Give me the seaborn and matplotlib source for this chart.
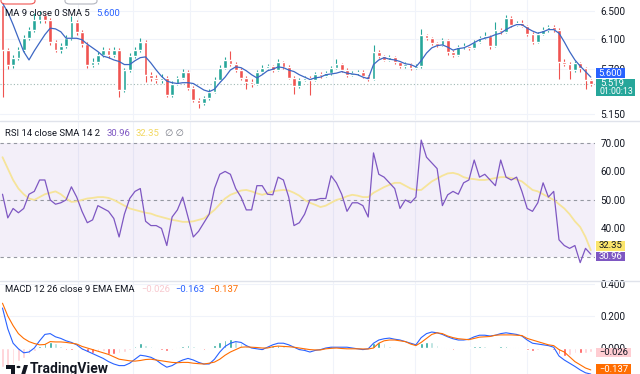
import matplotlib
matplotlib.use("Agg")
import matplotlib.pyplot as plt
import matplotlib.ticker as mticker
from matplotlib.patches import Rectangle, FancyBboxPatch, Polygon, Circle
from matplotlib.lines import Line2D
import numpy as np
import pandas as pd
import seaborn as sns

# %% values (one entry per candle)
opens = [6.584, 5.952, 5.757, 5.848, 5.952, 6.114, 6.225, 6.365, 6.437, 6.365,
         6.060, 5.952, 6.005, 6.114, 6.337, 6.197, 6.033, 5.757, 5.796, 5.887,
         5.952, 5.887, 5.952, 5.443, 5.693, 5.872, 5.952, 6.060, 5.630, 5.592,
         5.567, 5.592, 5.383, 5.517, 5.592, 5.668, 5.468, 5.323, 5.288, 5.347,
         5.419, 5.567, 5.719, 5.822, 5.767, 5.693, 5.592, 5.542, 5.517, 5.668,
         5.719, 5.744, 5.693, 5.796, 5.729, 5.592, 5.489, 5.567, 5.592, 5.567,
         5.639, 5.614, 5.652, 5.719, 5.767, 5.693, 5.630, 5.652, 5.668, 5.614,
         5.576, 5.926, 5.872, 5.822, 5.858, 5.796, 5.744, 5.767, 5.719, 5.744,
         6.155, 6.114, 6.046, 6.019, 6.087, 5.926, 5.887, 5.992, 6.005, 5.979,
         6.060, 6.114, 6.141, 6.005, 6.225, 6.197, 6.394, 6.295, 6.323, 6.281,
         6.169, 6.060, 6.169, 6.225, 6.267, 6.225, 5.796, 5.770, 5.693, 5.780,
         5.719, 5.567]
closes = [5.952, 5.757, 5.848, 5.952, 6.114, 6.225, 6.365, 6.437, 6.365, 6.060,
          5.952, 6.005, 6.114, 6.337, 6.197, 6.033, 5.757, 5.796, 5.887, 5.952,
          5.887, 5.952, 5.443, 5.693, 5.872, 5.952, 6.060, 5.630, 5.592, 5.567,
          5.592, 5.383, 5.517, 5.592, 5.668, 5.468, 5.323, 5.288, 5.347, 5.419,
          5.567, 5.719, 5.822, 5.767, 5.693, 5.592, 5.542, 5.517, 5.668, 5.719,
          5.744, 5.693, 5.796, 5.729, 5.592, 5.489, 5.567, 5.592, 5.567, 5.639,
          5.614, 5.652, 5.719, 5.767, 5.693, 5.630, 5.652, 5.668, 5.614, 5.576,
          5.926, 5.872, 5.822, 5.858, 5.796, 5.744, 5.767, 5.719, 5.744, 6.155,
          6.114, 6.046, 6.019, 6.087, 5.926, 5.887, 5.992, 6.005, 5.979, 6.060,
          6.114, 6.141, 6.005, 6.225, 6.197, 6.394, 6.295, 6.323, 6.281, 6.169,
          6.060, 6.169, 6.225, 6.267, 6.225, 5.796, 5.770, 5.693, 5.780, 5.719,
          5.567, 5.519]
highs = [6.66, 5.98, 5.88, 5.99, 6.15, 6.27, 6.46, 6.50, 6.47, 6.40,
         6.09, 6.04, 6.15, 6.42, 6.37, 6.23, 6.06, 5.84, 5.92, 5.99,
         5.98, 5.99, 5.98, 5.72, 5.91, 5.99, 6.11, 6.08, 5.66, 5.63,
         5.64, 5.61, 5.55, 5.62, 5.70, 5.69, 5.49, 5.34, 5.37, 5.45,
         5.60, 5.75, 5.86, 5.94, 5.79, 5.71, 5.61, 5.57, 5.69, 5.75,
         5.77, 5.76, 5.83, 5.81, 5.75, 5.61, 5.59, 5.62, 5.61, 5.66,
         5.67, 5.68, 5.74, 5.83, 5.78, 5.71, 5.68, 5.69, 5.69, 5.63,
         6.02, 5.95, 5.89, 5.88, 5.87, 5.81, 5.79, 5.78, 5.77, 6.24,
         6.17, 6.13, 6.06, 6.11, 6.10, 5.95, 6.02, 6.04, 6.02, 6.09,
         6.14, 6.20, 6.16, 6.34, 6.25, 6.44, 6.42, 6.35, 6.36, 6.30,
         6.19, 6.19, 6.27, 6.30, 6.29, 6.25, 5.83, 5.79, 5.80, 5.79,
         5.73, 5.58]
lows = [5.36, 5.70, 5.72, 5.82, 5.93, 6.09, 6.20, 6.33, 6.33, 6.02,
        5.92, 5.91, 5.98, 6.09, 6.16, 5.99, 5.72, 5.73, 5.77, 5.86,
        5.85, 5.86, 5.36, 5.42, 5.67, 5.85, 5.93, 5.54, 5.55, 5.53,
        5.53, 5.35, 5.36, 5.50, 5.57, 5.44, 5.29, 5.22, 5.26, 5.32,
        5.40, 5.55, 5.70, 5.74, 5.66, 5.56, 5.45, 5.48, 5.50, 5.65,
        5.70, 5.67, 5.68, 5.70, 5.57, 5.39, 5.47, 5.55, 5.38, 5.55,
        5.59, 5.60, 5.63, 5.70, 5.67, 5.60, 5.61, 5.63, 5.59, 5.55,
        5.56, 5.85, 5.80, 5.80, 5.77, 5.72, 5.72, 5.69, 5.70, 5.72,
        6.09, 6.02, 5.99, 6.00, 5.89, 5.86, 5.87, 5.97, 5.95, 5.96,
        6.04, 6.10, 5.97, 5.99, 6.17, 6.18, 6.27, 6.28, 6.26, 6.14,
        6.03, 6.05, 6.15, 6.20, 6.20, 5.57, 5.74, 5.58, 5.67, 5.66,
        5.45, 5.49]
ma9 = [6.61, 6.48, 6.30, 6.11, 5.93, 5.82, 5.94, 6.05, 6.16, 6.25,
       6.24, 6.20, 6.11, 6.11, 6.11, 6.09, 6.03, 5.98, 5.93, 5.87,
       5.85, 5.82, 5.80, 5.76, 5.76, 5.81, 5.85, 5.86, 5.78, 5.69,
       5.61, 5.55, 5.53, 5.52, 5.53, 5.53, 5.52, 5.48, 5.44, 5.42,
       5.45, 5.53, 5.60, 5.69, 5.73, 5.72, 5.68, 5.63, 5.59, 5.63,
       5.68, 5.70, 5.73, 5.72, 5.69, 5.67, 5.63, 5.60, 5.57, 5.59,
       5.60, 5.63, 5.64, 5.65, 5.67, 5.65, 5.64, 5.63, 5.60, 5.58,
       5.76, 5.82, 5.85, 5.83, 5.82, 5.80, 5.77, 5.76, 5.73, 5.81,
       5.91, 5.98, 6.01, 6.02, 5.99, 5.95, 5.97, 5.98, 6.01, 6.05,
       6.09, 6.11, 6.13, 6.16, 6.18, 6.23, 6.27, 6.30, 6.30, 6.25,
       6.21, 6.18, 6.20, 6.23, 6.23, 6.18, 6.06, 5.93, 5.82, 5.74,
       5.67, 5.60]
rsi = [52, 43.7, 47, 45.5, 47, 52, 53, 57, 57, 50,
       48.5, 49, 50, 54.6, 51, 46, 42, 43, 48, 47,
       46, 43.5, 37, 45, 50.5, 53, 54, 42.5, 41, 41,
       40, 34, 44, 46.5, 51, 44, 37, 39, 42, 45,
       54, 59, 60, 59, 54, 51, 46.5, 46.5, 55, 55,
       52, 51.8, 58, 57, 51, 41, 42, 45, 50, 50,
       50.5, 50.5, 58.5, 56, 52, 46, 49, 49, 48, 44,
       66.5, 59, 58, 56, 54, 47, 50, 49, 51, 71,
       65, 63, 61, 48, 51.8, 53, 52, 56, 57, 64,
       58, 59, 57, 55, 64, 58, 57, 58, 53, 47,
       46, 49, 56, 51, 53, 36, 34, 33, 34, 28,
       33, 30.96]
rsi_ma = [65, 61, 57, 54, 52, 50.5, 50, 51, 52, 52.5,
          53, 52, 50.5, 49.3, 49.5, 50, 50.5, 50.7, 51, 51,
          50.7, 50, 49, 48, 47, 46.5, 46, 45.5, 45.2, 44.5,
          44, 43.5, 43, 42.7, 42.3, 42.3, 42.5, 43, 43.5, 45,
          46.5, 48.5, 50.5, 51.8, 52.5, 53.3, 53.5, 53, 52.3, 51.8,
          52.3, 53, 53.3, 53.5, 53.3, 52.5, 51.5, 50, 49, 48.3,
          47.5, 48, 49, 50, 50.5, 51.3, 51.8, 51.5, 51, 51,
          52.5, 53.5, 54.5, 55.3, 56, 56, 55, 54, 53.5, 53.5,
          55, 56.5, 57.5, 58.5, 59.3, 59.5, 59, 58, 57.5, 57.3,
          57, 57, 57.3, 57.7, 58, 58, 57.7, 57.2, 56.5, 55,
          53.5, 53, 52, 51, 50, 48.5, 47, 45, 42.5, 40.5,
          37, 32.35]
macd = [0.25, 0.12, 0.03, -0.005, -0.03, -0.025, 0.0, 0.045, 0.085, 0.09,
        0.07, 0.06, 0.045, 0.035, 0.02, -0.005, -0.02, -0.035, -0.05, -0.065,
        -0.085, -0.1, -0.11, -0.11, -0.095, -0.07, -0.045, -0.05, -0.058, -0.075,
        -0.1, -0.12, -0.11, -0.09, -0.075, -0.065, -0.075, -0.09, -0.1, -0.1,
        -0.07, -0.025, 0.01, 0.03, 0.04, 0.035, 0.015, 0.0, -0.005, -0.01,
        0.005, 0.02, 0.03, 0.03, 0.02, 0.005, -0.01, -0.015, -0.025, -0.015,
        -0.01, 0.0, 0.005, 0.005, 0.005, 0.005, 0.0, -0.005, -0.01, -0.005,
        0.03, 0.05, 0.058, 0.062, 0.055, 0.05, 0.04, 0.03, 0.02, 0.065,
        0.09, 0.1, 0.095, 0.085, 0.07, 0.058, 0.05, 0.05, 0.055, 0.07,
        0.08, 0.08, 0.075, 0.08, 0.09, 0.095, 0.09, 0.085, 0.075, 0.05,
        0.03, 0.025, 0.02, 0.015, 0.005, -0.05, -0.075, -0.095, -0.115, -0.137,
        -0.155, -0.163]
signal = [0.28, 0.2, 0.14, 0.09, 0.06, 0.04, 0.028, 0.02, 0.022, 0.04,
          0.038, 0.038, 0.035, 0.03, 0.025, 0.01, 0.0, -0.01, -0.02, -0.03,
          -0.04, -0.055, -0.07, -0.075, -0.08, -0.082, -0.078, -0.072, -0.07, -0.075,
          -0.08, -0.085, -0.09, -0.092, -0.09, -0.09, -0.095, -0.098, -0.1, -0.095,
          -0.088, -0.07, -0.045, -0.025, -0.01, 0.005, 0.007, 0.005, 0.003, 0.0,
          0.0, 0.008, 0.012, 0.01, 0.008, 0.005, 0.0, -0.005, -0.01, -0.012,
          -0.012, -0.005, -0.002, 0.0, -0.003, -0.005, -0.005, -0.005, -0.006, -0.006,
          0.0, 0.03, 0.045, 0.05, 0.05, 0.045, 0.04, 0.025, 0.015, 0.035,
          0.06, 0.085, 0.095, 0.09, 0.075, 0.065, 0.058, 0.055, 0.052, 0.06,
          0.068, 0.07, 0.072, 0.08, 0.082, 0.082, 0.082, 0.08, 0.078, 0.06,
          0.05, 0.04, 0.03, 0.02, 0.015, -0.01, -0.025, -0.055, -0.085, -0.105,
          -0.125, -0.137]
hist = [-0.12, -0.12, -0.10, -0.08, -0.06, -0.04, -0.02, 0.015, 0.03, 0.04,
        0.03, 0.012, -0.01, -0.012, -0.005, -0.015, -0.025, -0.03, -0.025, -0.02,
        -0.035, -0.04, -0.03, -0.025, -0.012, 0.012, 0.03, 0.02, 0.01, -0.005,
        -0.015, -0.02, -0.012, 0.005, 0.015, 0.02, 0.012, -0.005, -0.01, -0.008,
        0.02, 0.04, 0.05, 0.055, 0.045, 0.03, 0.01, -0.005, -0.008, -0.01,
        0.005, 0.012, 0.018, 0.012, 0.006, -0.005, -0.01, -0.012, -0.015, -0.005,
        0.004, 0.008, 0.01, 0.008, 0.006, -0.005, -0.006, -0.004, -0.005, 0.003,
        0.03, 0.035, 0.03, 0.015, 0.008, 0.004, -0.004, -0.008, -0.006, 0.03,
        0.04, 0.035, 0.02, 0.005, -0.006, -0.01, -0.008, -0.005, 0.006, 0.012,
        0.015, 0.01, 0.003, -0.003, 0.01, 0.013, 0.008, 0.005, -0.003, -0.01,
        -0.02, -0.015, -0.01, -0.008, -0.01, -0.04, -0.05, -0.045, -0.03, -0.032,
        -0.03, -0.026]

price_ticks = [5.15, 5.7, 6.1, 6.5]
rsi_ticks = [40, 50, 60, 70]
rsi_levels = [30, 50, 70]
macd_ticks = [0.0, 0.2, 0.4]
countdown = "01:00:13"

# %%
sns.set_style("white")
plt.rcParams["font.family"] = ["Roboto", "DejaVu Sans"]

W, H = 640, 374
UP, DOWN = "#26a69a", "#ef5350"
TXT = "#131722"
GRID = "#f0f3fa"
MA_COL = "#3d67c4"

df = pd.DataFrame({"open": opens, "high": highs, "low": lows, "close": closes,
                   "ma": ma9, "rsi": rsi, "rsi_ma": rsi_ma,
                   "macd": macd, "signal": signal, "hist": hist})
df["i"] = np.arange(len(df))

fig = plt.figure(figsize=(W / 100, H / 100), dpi=100)


def pane(top, bottom):
    return fig.add_axes([0, 1 - bottom / H, 595 / W, (bottom - top) / H])


ax_p = pane(0, 120)
ax_r = pane(121, 280)
ax_m = pane(281, 374)

# candles sit every 5.3 px starting at 2.5 px
grid_px = [78, 133, 190, 270, 333, 415, 470, 527]
for ax in (ax_p, ax_r, ax_m):
    for gx in grid_px:
        ax.axvline((gx - 2.5) / 5.3, color=GRID, lw=0.8, zorder=0)

# price pane
cols = np.where(df["close"] >= df["open"], UP, DOWN)
body_lo = df[["open", "close"]].min(axis=1)
body_hi = df[["open", "close"]].max(axis=1)
ax_p.vlines(df["i"], df["low"], df["high"], colors=cols, lw=0.8, zorder=2)
ax_p.bar(df["i"], body_hi - body_lo, bottom=body_lo, width=0.68, color=cols, zorder=3)
sns.lineplot(data=df, x="i", y="ma", ax=ax_p, color=MA_COL, lw=0.9, zorder=4)
ax_p.set_yscale("log")
ax_p.set_ylim(5.086, 6.658)
ax_p.yaxis.set_major_locator(mticker.FixedLocator(price_ticks))
ax_p.yaxis.set_major_formatter(mticker.FormatStrFormatter("%.3f"))
ax_p.yaxis.set_minor_locator(mticker.NullLocator())
for t in price_ticks:
    ax_p.axhline(t, color=GRID, lw=0.8, zorder=0)
ax_p.axhline(df["close"].iloc[-1], color="#9fb8b3", lw=0.8, ls=(0, (1, 2)), zorder=1)

# RSI pane
ax_r.axhspan(30, 70, color="#7e57c2", alpha=0.09, lw=0, zorder=0)
for lvl in rsi_levels:
    ax_r.axhline(lvl, color="#9598a1", lw=0.8, ls=(0, (3, 3)), zorder=1)
sns.lineplot(data=df, x="i", y="rsi_ma", ax=ax_r, color="#f6e49a", lw=1.3, zorder=2)
sns.lineplot(data=df, x="i", y="rsi", ax=ax_r, color="#7e57c2", lw=0.9, zorder=3)
ax_r.set_ylim(21.9, 77.7)
ax_r.set_yticks(rsi_ticks)
ax_r.yaxis.set_major_formatter(mticker.FormatStrFormatter("%.2f"))

# MACD pane
prev = df["hist"].shift(1).fillna(df["hist"].iloc[0])
hcol = np.where(df["hist"] >= 0,
                np.where(df["hist"] >= prev, "#26a69a", "#b2dfdb"),
                np.where(df["hist"] < prev, "#ff5252", "#ffcdd2"))
for t in macd_ticks[1:]:
    ax_m.axhline(t, color=GRID, lw=0.8, zorder=0)
ax_m.bar(df["i"], df["hist"], width=0.5, color=hcol, zorder=2)
sns.lineplot(data=df, x="i", y="macd", ax=ax_m, color="#2962ff", lw=0.8, zorder=3)
sns.lineplot(data=df, x="i", y="signal", ax=ax_m, color="#ff6d00", lw=0.8, zorder=3)
ax_m.set_ylim(-0.1625, 0.419)
ax_m.set_yticks(macd_ticks)
ax_m.yaxis.set_major_formatter(mticker.FormatStrFormatter("%.3f"))

for ax in (ax_p, ax_r, ax_m):
    ax.set_xlim(-2.5 / 5.3, (595 - 2.5) / 5.3)
    ax.set_xticks([])
    ax.set_xlabel("")
    ax.set_ylabel("")
    for s in ax.spines.values():
        s.set_visible(False)
    ax.yaxis.tick_right()
    ax.tick_params(axis="y", length=0, pad=4, labelsize=7.2, labelcolor=TXT)

# pane separators
for yy in (120.5, 280.5):
    fig.add_artist(Line2D([0, 1], [1 - yy / H] * 2, color="#e0e3eb", lw=1))


def ftext(x, y, s, **kw):
    kw.setdefault("fontsize", 6.8)
    kw.setdefault("va", "center")
    return fig.text(x / W, 1 - y / H, s, ha=kw.pop("ha", "left"), zorder=6, **kw)


def tag(x0, x1, y0, y1, fc):
    fig.add_artist(Rectangle((x0 / W, 1 - y1 / H), (x1 - x0) / W, (y1 - y0) / H,
                             transform=fig.transFigure, fc=fc, ec="none", zorder=5))


def fmt(v, d):
    return f"{v:.{d}f}".replace("-", "\u2212")


renderer = fig.canvas.get_renderer()


def header(y, parts, x=5):
    # parts are laid out one after the other, like the pane legend
    for k, (s, c) in enumerate(parts):
        t = ftext(x, y, s, color=c)
        x = t.get_window_extent(renderer).x1 + (7 if k == 0 else 5)


header(14, [("MA 9 close 0 SMA 5", TXT), (fmt(ma9[-1], 3), "#2962ff")])
header(133, [("RSI 14 close SMA 14 2", TXT), (fmt(rsi[-1], 2), "#7e57c2"),
             (fmt(rsi_ma[-1], 2), "#f2d860"), ("\u2205 \u2205", "#787b86")])
header(290, [("MACD 12 26 close 9 EMA EMA", TXT), (fmt(hist[-1], 3), "#f8c9cf"),
             (fmt(macd[-1], 3), "#2962ff"), (fmt(signal[-1], 3), "#ff6d00")])

# last value tags on the price scale
tag(596, 625, 68, 78, "#2962ff")
ftext(610.5, 73, fmt(ma9[-1], 3), color="white", ha="center")
tag(596, 635, 79, 96, UP)
ftext(600, 83.5, fmt(closes[-1], 3), color="white")
ftext(600, 91, countdown, color="white", fontsize=6.3)
tag(596, 625, 241, 250.5, "#fbe56b")
ftext(610.5, 245.7, fmt(rsi_ma[-1], 2), color=TXT, ha="center")
tag(596, 625, 251.5, 261, "#7e57c2")
ftext(610.5, 256.2, fmt(rsi[-1], 2), color="white", ha="center")
tag(596, 631, 347.5, 357, "#ffcdd2")
ftext(613.5, 352.3, fmt(hist[-1], 3), color=TXT, ha="center")
tag(596, 631, 364, 374, "#ff6d00")
ftext(613.5, 369, fmt(signal[-1], 3), color="white", ha="center")

# cut-off legend boxes at the very top
fig.add_artist(FancyBboxPatch((1 / W, 1 - 4 / H), 34 / W, 12 / H, transform=fig.transFigure,
                              boxstyle="round,pad=0,rounding_size=0.008",
                              fc="white", ec=DOWN, lw=0.8, zorder=5))
fig.add_artist(FancyBboxPatch((65 / W, 1 - 4 / H), 32 / W, 12 / H, transform=fig.transFigure,
                              boxstyle="round,pad=0,rounding_size=0.008",
                              fc="white", ec="#b2b5be", lw=0.8, zorder=5))

# TradingView watermark
fig.add_artist(Rectangle((6 / W, 1 - 369 / H), 9 / W, 4 / H, transform=fig.transFigure,
                         fc=TXT, ec="none", zorder=6))
fig.add_artist(Rectangle((11 / W, 1 - 375 / H), 4 / W, 10 / H, transform=fig.transFigure,
                         fc=TXT, ec="none", zorder=6))
fig.add_artist(Circle((18.5 / W, 1 - 367 / H), 2 / W, transform=fig.transFigure,
                      fc=TXT, ec="none", zorder=6))
fig.add_artist(Polygon([(21 / W, 1 - 375 / H), (24 / W, 1 - 365 / H),
                        (28 / W, 1 - 365 / H), (25 / W, 1 - 375 / H)],
                       closed=True, transform=fig.transFigure, fc=TXT, ec="none", zorder=6))
ftext(30, 362, "TradingView", fontsize=10, fontweight="bold", color=TXT, va="top")

fig.savefig("out.png", dpi=100, facecolor="white")
